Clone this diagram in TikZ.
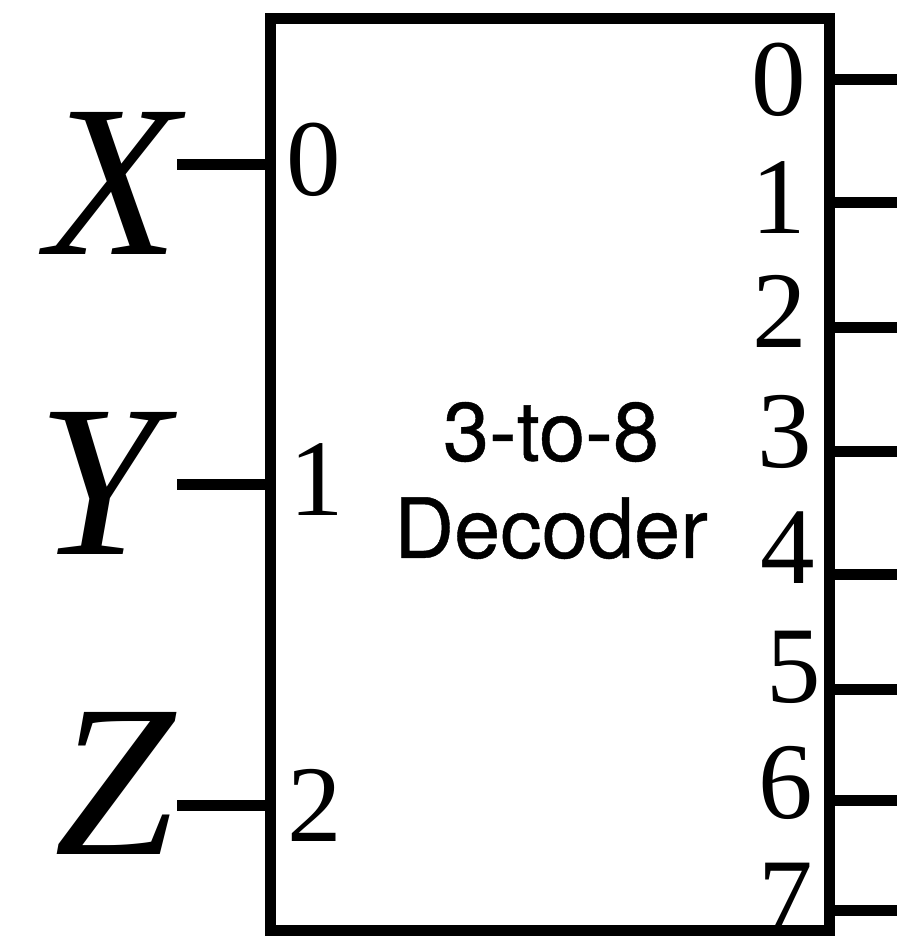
\documentclass[tikz,border=0pt]{standalone}
\usepackage{fontspec}
\setmainfont{Liberation Serif}
\newfontfamily\helv[FakeBold=0.5]{TeX Gyre Heros}
\begin{document}
\begin{tikzpicture}[x=1pt,y=-1pt,
  wire/.style={line width=11pt},
  varlab/.style={inner sep=0pt, font=\fontsize{217}{217}\selectfont\itshape},
  pinlab/.style={inner sep=0pt, font=\fontsize{109}{109}\selectfont},
  titlelab/.style={inner sep=0pt, align=center, font=\fontsize{83}{97}\selectfont\helv}]
\useasboundingbox (0,0) rectangle (897,937);
% labels
\node[titlelab] (title) at (551,480.5) {3-to-8\\Decoder};
\node[varlab] (X) at (113,183) {X};
\node[varlab] (Y) at (98,483.5) {Y};
\node[varlab] (Z) at (115,783.5) {Z};
\node[pinlab] (i0) at (314,159.5) {0};
\node[pinlab] (i1) at (316.5,479.5) {1};
\node[pinlab] (i2) at (315,805) {2};
\node[pinlab] (o0) at (779,80) {0};
\node[pinlab] (o1) at (779,198) {1};
\node[pinlab] (o2) at (780,311) {2};
\node[pinlab] (o3) at (784.5,432) {3};
\node[pinlab] (o4) at (788,547.5) {4};
\node[pinlab] (o5) at (793.5,667.5) {5};
\node[pinlab] (o6) at (785.5,782.5) {6};
\node[pinlab] (o7) at (785.5,899) {7};
% decoder box
\node[draw, line width=11pt, outer sep=0pt, inner sep=0pt, minimum width=559pt, minimum height=912pt, anchor=north west] (dec) at (270.5,18.5) {};
% inputs
\coordinate (xin) at (177,164.5);
\coordinate (yin) at (177,484.5);
\coordinate (zin) at (177,805);
\draw[wire] (xin) -- (xin -| dec.west);
\draw[wire] (yin) -- (yin -| dec.west);
\draw[wire] (zin) -- (zin -| dec.west);
% outputs
\foreach \k/\y in {0/79,1/202.5,2/327.5,3/451,4/574.5,5/689.5,6/800,7/910.5}{
  \coordinate (out\k) at (897,\y);
  \draw[wire] (out\k -| dec.east) -- (out\k);
}
\end{tikzpicture}
\end{document}
